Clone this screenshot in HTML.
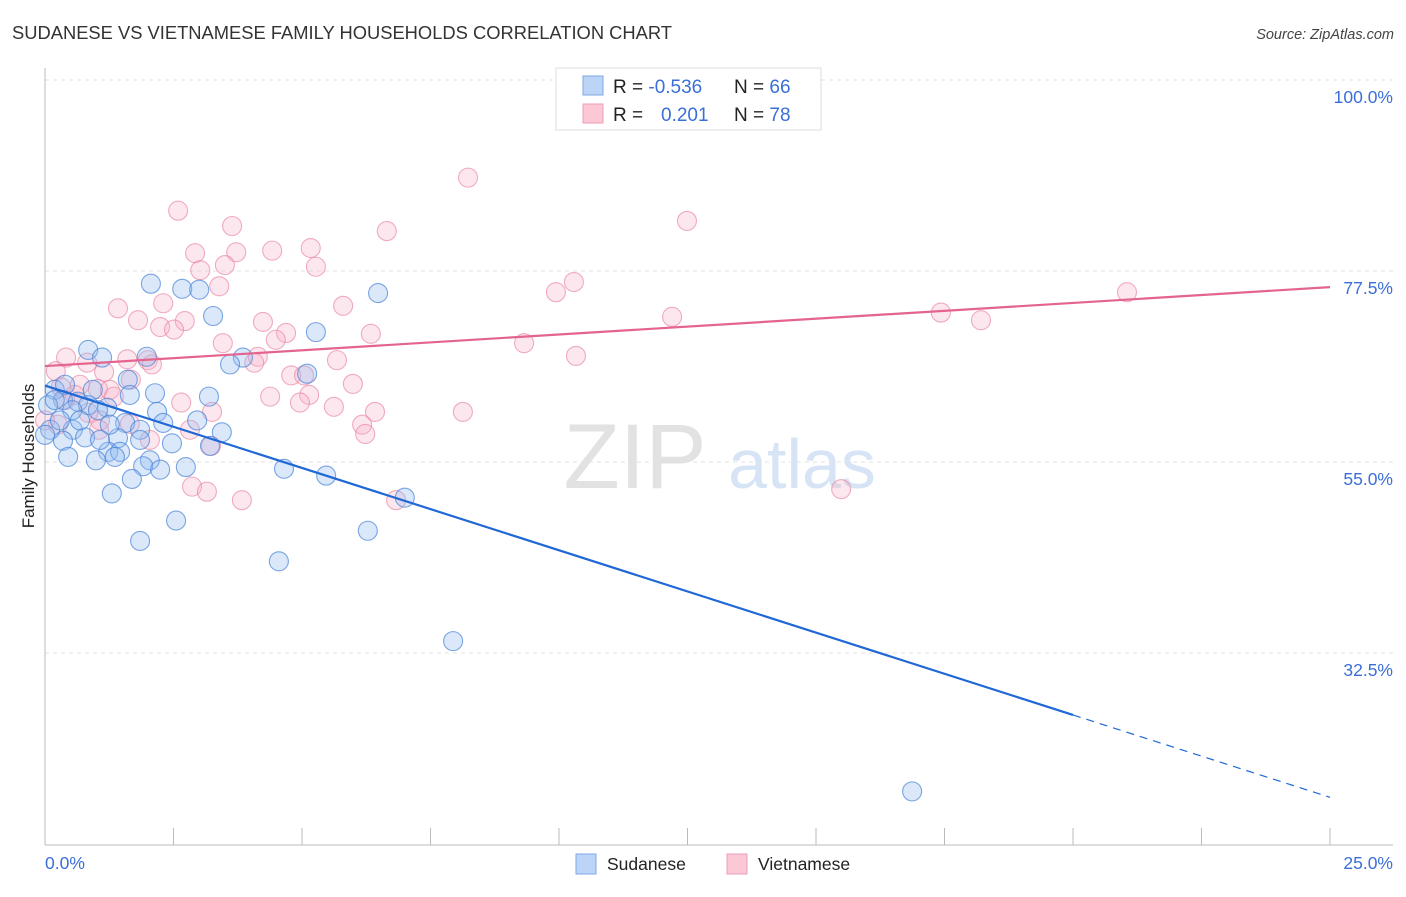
<!DOCTYPE html>
<html><head><meta charset="utf-8"><style>
body{margin:0;background:#fff;font-family:"Liberation Sans",sans-serif;}
svg text{font-family:"Liberation Sans",sans-serif;}
</style></head><body>
<svg id="chart" width="1406" height="892" viewBox="0 0 1406 892" xmlns="http://www.w3.org/2000/svg">
<text x="12" y="39" font-size="18" fill="#333" textLength="660" lengthAdjust="spacingAndGlyphs">SUDANESE VS VIETNAMESE FAMILY HOUSEHOLDS CORRELATION CHART</text>
<text x="1394" y="39" font-size="14.5" fill="#444" font-style="italic" text-anchor="end">Source: ZipAtlas.com</text>
<g>
<text x="635" y="488" font-size="92" fill="#e2e2e2" font-family="Liberation Serif" text-anchor="middle">ZIP</text>
<text x="802" y="488" font-size="70" fill="#d6e4f5" text-anchor="middle">atlas</text>
</g>
<g id="grid"></g>
<g id="axes"></g>
<g id="pts"></g>
<g id="trends"></g>
<g>
<rect x="556" y="68" width="265" height="62" fill="#fff" stroke="#ddd"/>
<rect x="583" y="76" width="20" height="19" fill="#bcd4f6" stroke="#7ea7e6"/>
<rect x="583" y="104" width="20" height="19" fill="#fcc8d6" stroke="#ee9fb5"/>
<text x="613" y="93" font-size="19" fill="#222">R = <tspan fill="#3a6fd8">-0.536</tspan><tspan x="734">N = </tspan><tspan fill="#3a6fd8">66</tspan></text>
<text x="613" y="121" font-size="19" fill="#222">R = <tspan x="661" fill="#3a6fd8">0.201</tspan><tspan x="734">N = </tspan><tspan fill="#3a6fd8">78</tspan></text>
</g>
<text transform="translate(34,456) rotate(-90)" font-size="17" fill="#222" text-anchor="middle">Family Households</text>
<text x="45" y="869" font-size="17.5" fill="#3a6fd8">0.0%</text>
<text x="1393" y="869" font-size="17.5" fill="#3a6fd8" text-anchor="end">25.0%</text>
<g>
<rect x="576" y="854" width="20" height="20" fill="#bcd4f6" stroke="#7ea7e6"/>
<text x="607" y="870" font-size="17.5" fill="#222">Sudanese</text>
<rect x="727" y="854" width="20" height="20" fill="#fcc8d6" stroke="#ee9fb5"/>
<text x="758" y="870" font-size="17.5" fill="#222">Vietnamese</text>
</g>
</svg>
<script>
const yTicks=[100,77.5,55,32.5];
const yTickLabels=["100.0%","77.5%","55.0%","32.5%"];
const sudX=[2.06,2.67,3.00,6.48,3.27,5.27,0.84,1.11,1.98,3.85,3.60,1.61,5.10,0.19,0.93,2.14,3.19,0.35,0.64,0.84,1.21,0.53,1.03,2.18,2.96,2.30,1.56,1.85,0.54,3.44,0.78,0.35,1.42,2.47,3.21,1.23,1.46,0.45,0.99,1.36,2.04,1.91,2.74,4.65,5.47,1.69,1.30,7.00,2.55,6.28,1.85,4.55,7.94,16.87,0.10,0.06,0.29,0.68,1.85,2.24,1.26,0.0,0.19,1.07,1.65,0.39];
const sudY=[76.0,75.4,75.3,74.9,72.2,70.3,68.2,67.3,67.4,67.3,66.5,64.7,65.4,63.5,63.5,63.1,62.7,62.3,62.1,61.7,61.4,61.1,61.1,60.9,59.9,59.6,59.6,58.8,58.8,58.5,57.9,57.5,57.8,57.2,56.9,56.2,56.2,55.6,55.2,55.6,55.2,54.5,54.4,54.2,53.4,53.0,51.3,50.8,48.1,46.9,45.7,43.3,33.9,16.2,58.8,61.7,59.9,59.9,57.6,54.1,59.4,58.2,62.3,57.6,62.9,64.1];
const vieX=[8.23,2.59,12.49,3.64,6.65,4.42,5.17,2.92,3.72,3.50,3.02,5.27,10.29,9.94,21.05,3.39,2.30,5.80,1.42,17.43,12.20,18.21,4.24,1.81,2.72,2.24,2.51,4.69,6.34,4.49,3.46,9.32,0.41,1.60,10.33,4.14,5.68,2.00,0.82,2.08,4.07,1.15,4.79,0.21,5.04,1.67,5.99,0.68,0.31,1.03,1.26,5.14,4.38,1.34,2.65,4.96,5.62,8.13,6.42,3.25,1.07,0.84,1.65,6.17,6.23,3.23,1.05,2.86,3.15,3.83,6.83,15.49,0.25,0.0,0.58,0.39,2.04,2.82];
const vieY=[88.5,84.6,83.4,82.8,82.2,79.9,80.2,79.6,79.7,78.2,77.6,78.0,76.2,75.0,75.0,75.7,73.7,73.4,73.1,72.6,72.1,71.7,71.5,71.7,71.6,70.9,70.6,70.2,70.1,69.4,69.0,69.0,67.3,67.1,67.5,67.4,67.0,67.0,66.7,66.5,66.7,65.6,65.2,65.7,65.2,64.7,64.2,64.1,63.8,63.6,63.5,62.9,62.7,62.7,62.0,62.0,61.5,60.9,60.9,60.9,59.9,60.8,59.5,59.4,58.3,56.9,58.8,52.1,51.5,50.5,50.5,51.8,59.4,59.9,62.9,62.3,57.6,58.8];
const sudTrend=[64.0,15.5];
const vieTrend=[66.3,75.6];
const sudSolidEnd=20;
const NS="http://www.w3.org/2000/svg";
const X=v=>45+v/25*1285;
const Y=v=>80+(100-v)/22.5*191;
function mk(t,a,p){const e=document.createElementNS(NS,t);for(const k in a)e.setAttribute(k,a[k]);p.appendChild(e);return e;}
const grid=document.getElementById('grid'),axes=document.getElementById('axes');
yTicks.forEach((t,i)=>{
 const l=mk('line',{x1:45,x2:1393,y1:Y(t),y2:Y(t),stroke:'#e2e2e2','stroke-dasharray':'4,4'},grid);
 
 
 const tx=mk('text',{x:1393,y:Y(t)+23,'font-size':17.5,fill:'#3a6fd8','text-anchor':'end'},axes);
 tx.textContent=yTickLabels[i];
 
 
});
mk('line',{x1:45,x2:45,y1:68,y2:845,stroke:'#bbb'},axes);
mk('line',{x1:45,x2:1393,y1:845,y2:845,stroke:'#bbb'},axes);
for(let i=0;i<=10;i++){const t=mk('line',{x1:X(i*2.5),x2:X(i*2.5),y1:828,y2:845,stroke:'#bbb'},axes);
 
 }
const pts=document.getElementById('pts');
function series(xs,ys,fill,stroke,name){
 const g=mk('g',{},pts);
 
 
 xs.forEach((x,i)=>{const c=mk('circle',{cx:X(x),cy:Y(ys[i]),r:9.5,fill:fill,stroke:stroke,'stroke-width':1.1},g);
  
  });
}
series(vieX,vieY,'rgba(248,175,198,0.3)','rgba(232,130,160,0.65)','vietnamese');
series(sudX,sudY,'rgba(150,190,240,0.35)','rgba(70,130,215,0.7)','sudanese');
const tr=document.getElementById('trends');
const yAt=(tn,x)=>tn[0]+(tn[1]-tn[0])*x/25;
let a=mk('line',{x1:X(0),y1:Y(yAt(vieTrend,0)),x2:X(25),y2:Y(yAt(vieTrend,25)),stroke:'#e4648e','stroke-width':2.2},tr);


a=mk('line',{x1:X(0),y1:Y(yAt(sudTrend,0)),x2:X(sudSolidEnd),y2:Y(yAt(sudTrend,sudSolidEnd)),stroke:'#1f68d6','stroke-width':2.2},tr);


a=mk('line',{x1:X(sudSolidEnd),y1:Y(yAt(sudTrend,sudSolidEnd)),x2:X(25),y2:Y(yAt(sudTrend,25)),stroke:'#1f68d6','stroke-width':1.2,'stroke-dasharray':'8,6'},tr);


</script>
</body></html>
